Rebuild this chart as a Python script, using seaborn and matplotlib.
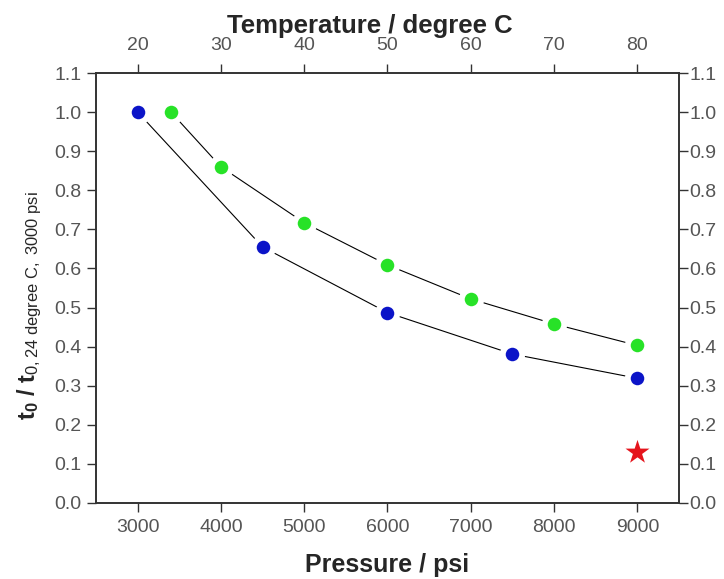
import matplotlib
matplotlib.use("Agg")
import matplotlib.pyplot as plt
import seaborn as sns
import pandas as pd

# Pressure series (bottom axis)
pressure_psi = [3000, 4500, 6000, 7500, 9000]
pressure_ratio = [1.0, 0.655, 0.487, 0.381, 0.319]

# Temperature series (top axis)
temperature_c = [24, 30, 40, 50, 60, 70, 80]
temperature_ratio = [1.0, 0.860, 0.717, 0.609, 0.522, 0.458, 0.403]

# Single highlighted point
star_psi = [9000]
star_ratio = [0.13]

x_ticks = [3000, 4000, 5000, 6000, 7000, 8000, 9000]
t_ticks = [20, 30, 40, 50, 60, 70, 80]
y_ticks = [0.0, 0.1, 0.2, 0.3, 0.4, 0.5, 0.6, 0.7, 0.8, 0.9, 1.0, 1.1]

sns.set_style("white")
plt.rcParams["font.family"] = ["Liberation Sans", "DejaVu Sans"]
plt.rcParams["mathtext.fontset"] = "custom"
plt.rcParams["mathtext.rm"] = "Liberation Sans"
plt.rcParams["mathtext.bf"] = "Liberation Sans:bold"
plt.rcParams["mathtext.it"] = "Liberation Sans:italic"

fig = plt.figure(figsize=(7.24, 5.79), dpi=100)
ax = fig.add_axes([0.1326, 0.1313, 0.8052, 0.7426])
ax2 = ax.twiny()

p_df = pd.DataFrame({"p": pressure_psi, "r": pressure_ratio})
t_df = pd.DataFrame({"t": temperature_c, "r": temperature_ratio})
s_df = pd.DataFrame({"p": star_psi, "r": star_ratio})

blue = "#0b14c8"
green = "#27e227"
red = "#e5141c"

# lines with a white halo around each marker
sns.lineplot(data=p_df, x="p", y="r", ax=ax, color="black", lw=0.8,
             sort=False, zorder=1)
sns.scatterplot(data=p_df, x="p", y="r", ax=ax, s=330, color="white",
                linewidth=0, zorder=2)
sns.scatterplot(data=p_df, x="p", y="r", ax=ax, s=95, color=blue,
                linewidth=0, zorder=3)
sns.scatterplot(data=s_df, x="p", y="r", ax=ax, s=330, marker="*",
                color=red, linewidth=0, zorder=3)

sns.lineplot(data=t_df, x="t", y="r", ax=ax2, color="black", lw=0.8,
             sort=False, zorder=1)
sns.scatterplot(data=t_df, x="t", y="r", ax=ax2, s=330, color="white",
                linewidth=0, zorder=2)
sns.scatterplot(data=t_df, x="t", y="r", ax=ax2, s=95, color=green,
                linewidth=0, zorder=3)

ax.set_xlim(2500, 9500)
ax2.set_xlim(15, 85)
ax.set_ylim(0, 1.1)

ax.set_xticks(x_ticks)
ax.set_xticklabels([str(v) for v in x_ticks])
ax2.set_xticks(t_ticks)
ax2.set_xticklabels([str(v) for v in t_ticks])
ax.set_yticks(y_ticks)
ax.set_yticklabels([f"{v:.1f}" for v in y_ticks])

tick_kw = dict(direction="out", length=6.5, width=1.0, color="#333333",
               labelcolor="#555555", labelsize=14)
ax.tick_params(axis="x", bottom=True, pad=5, **tick_kw)
ax.tick_params(axis="y", left=True, right=False, labelleft=True,
               labelright=False, pad=4, **tick_kw)
ax2.tick_params(axis="x", top=True, pad=7, **tick_kw)

# right-hand value scale, drawn from the twin's own y axis
ax2.yaxis.set_visible(True)
ax2.set_ylabel("")
ax2.set_yticks(y_ticks)
ax2.set_yticklabels([f"{v:.1f}" for v in y_ticks])
ax2.tick_params(axis="y", left=False, right=True, labelleft=False,
                labelright=True, pad=1, **tick_kw)

for a in (ax, ax2):
    for sp in a.spines.values():
        sp.set_visible(True)
        sp.set_color("#333333")
        sp.set_linewidth(1.2)

ax.set_xlabel("Pressure / psi", fontsize=18, fontweight="bold", labelpad=12)
ax2.set_xlabel("Temperature / degree C", fontsize=18.5, fontweight="bold")
ax2.xaxis.set_label_coords(0.47, 1.093)
ax.set_ylabel(r"$\mathbf{t_0\ /\ t}_{\mathrm{0,24\ degree\ C,\ 3000\ psi}}$",
              fontsize=17)
ax.yaxis.set_label_coords(-0.09, 0.46)

fig.savefig("out.png", dpi=100)
